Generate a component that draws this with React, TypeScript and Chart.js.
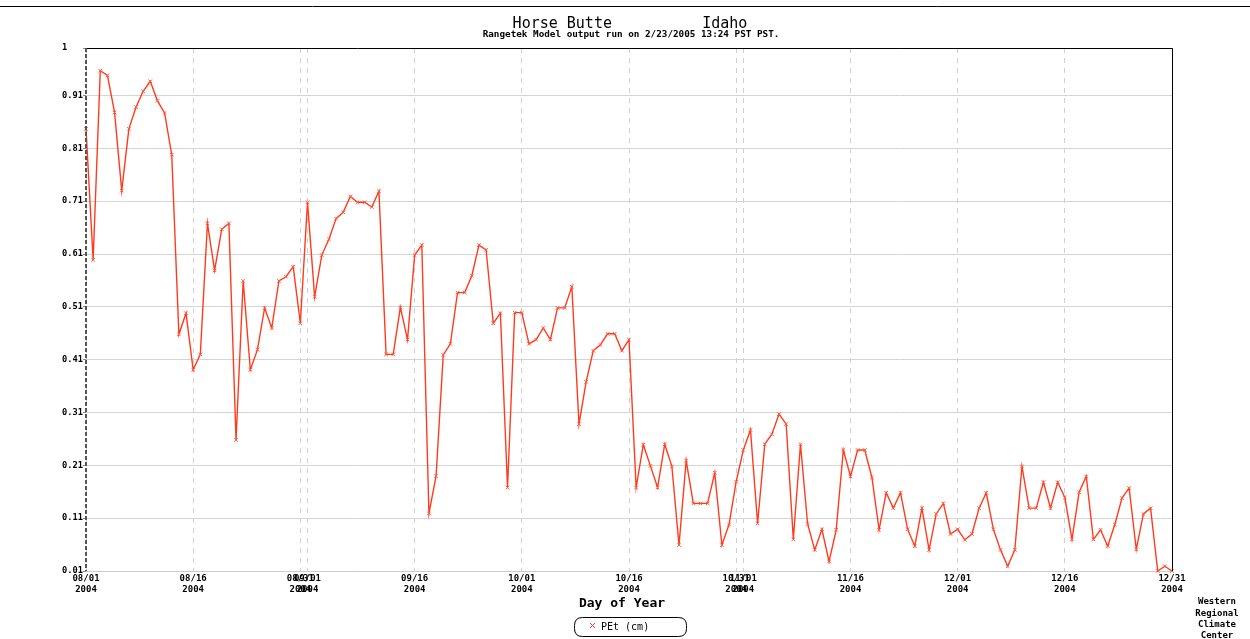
import React, { useEffect, useRef } from 'react';
import { Chart, registerables } from 'chart.js';

Chart.register(...registerables);

const titleText = 'Horse Butte          Idaho';
const subtitleText = 'Rangetek Model output run on 2/23/2005 13:24 PST PST.';
const xAxisTitle = 'Day of Year';
const seriesLabel = 'PEt (cm)';
const creditLines = ['Western', 'Regional', 'Climate', 'Center'];

// x = day index since 08/01/2004
const tickDays = [0, 15, 30, 31, 46, 61, 76, 91, 92, 107, 122, 137, 152];
const tickDates = ['08/01', '08/16', '08/31', '09/01', '09/16', '10/01', '10/16', '10/31', '11/01', '11/16', '12/01', '12/16', '12/31'];
const tickYear = '2004';

const yTickValues = [0.01, 0.11, 0.21, 0.31, 0.41, 0.51, 0.61, 0.71, 0.81, 0.91, 1];
const yTickLabels = ['0.01', '0.11', '0.21', '0.31', '0.41', '0.51', '0.61', '0.71', '0.81', '0.91', '1   '];

const petValues = [
  0.847, 0.599, 0.957, 0.948, 0.878, 0.730, 0.847, 0.888, 0.918, 0.937,
  0.900, 0.877, 0.798, 0.458, 0.498, 0.391, 0.420, 0.668, 0.579, 0.657,
  0.668, 0.258, 0.559, 0.391, 0.429, 0.508, 0.470, 0.559, 0.567, 0.586,
  0.479, 0.708, 0.529, 0.608, 0.638, 0.677, 0.689, 0.719, 0.708, 0.708,
  0.699, 0.729, 0.420, 0.420, 0.509, 0.448, 0.608, 0.627, 0.119, 0.190,
  0.419, 0.440, 0.537, 0.537, 0.569, 0.627, 0.618, 0.479, 0.498, 0.168,
  0.499, 0.499, 0.440, 0.448, 0.470, 0.448, 0.508, 0.508, 0.548, 0.288,
  0.368, 0.427, 0.438, 0.459, 0.459, 0.427, 0.448, 0.168, 0.249, 0.209,
  0.168, 0.250, 0.208, 0.059, 0.219, 0.138, 0.138, 0.138, 0.196, 0.059,
  0.098, 0.179, 0.239, 0.277, 0.100, 0.250, 0.269, 0.307, 0.288, 0.070,
  0.250, 0.099, 0.050, 0.089, 0.028, 0.088, 0.239, 0.189, 0.239, 0.239,
  0.187, 0.088, 0.158, 0.129, 0.158, 0.089, 0.057, 0.129, 0.050, 0.118,
  0.138, 0.080, 0.089, 0.069, 0.080, 0.129, 0.158, 0.089, 0.050, 0.019,
  0.050, 0.208, 0.129, 0.129, 0.178, 0.129, 0.178, 0.149, 0.070, 0.159,
  0.189, 0.070, 0.088, 0.057, 0.098, 0.148, 0.167, 0.051, 0.118, 0.129,
  0.010, 0.019, 0.010,
];

const MONO = '"DejaVu Sans Mono", "Liberation Mono", monospace';
const LINE_COLOR = '#ff3b1f';

const decorPlugin = {
  id: 'decor',
  afterDraw(chart: any) {
    const { ctx, chartArea } = chart;
    const { left, right, top, bottom } = chartArea;
    const W = chart.width;
    ctx.save();
    // top frame line
    ctx.strokeStyle = '#000';
    ctx.lineWidth = 1;
    ctx.beginPath();
    ctx.moveTo(0, 6.5);
    ctx.lineTo(W, 6.5);
    ctx.stroke();
    // plot top & right borders
    ctx.beginPath();
    ctx.moveTo(left, top + 0.5);
    ctx.lineTo(right + 0.5, top + 0.5);
    ctx.lineTo(right + 0.5, bottom);
    ctx.stroke();
    // dashed left axis
    ctx.strokeStyle = '#555';
    ctx.lineWidth = 2;
    ctx.setLineDash([4, 2]);
    ctx.beginPath();
    ctx.moveTo(left, top);
    ctx.lineTo(left, bottom);
    ctx.stroke();
    ctx.setLineDash([]);

    // titles
    ctx.fillStyle = '#000';
    ctx.textAlign = 'center';
    ctx.textBaseline = 'middle';
    ctx.font = `15px ${MONO}`;
    ctx.fillText(titleText, 630, 24);
    ctx.font = `bold 9.3px ${MONO}`;
    ctx.fillText(subtitleText, 631, 35);

    // x axis title
    ctx.font = `bold 13px ${MONO}`;
    ctx.fillText(xAxisTitle, 622, 604);

    // legend
    const lx = 574.5, ly = 617.5, lw = 112, lh = 19, r = 8;
    ctx.strokeStyle = '#000';
    ctx.lineWidth = 1;
    ctx.beginPath();
    ctx.moveTo(lx + r, ly);
    ctx.lineTo(lx + lw - r, ly);
    ctx.quadraticCurveTo(lx + lw, ly, lx + lw, ly + r);
    ctx.lineTo(lx + lw, ly + lh - r);
    ctx.quadraticCurveTo(lx + lw, ly + lh, lx + lw - r, ly + lh);
    ctx.lineTo(lx + r, ly + lh);
    ctx.quadraticCurveTo(lx, ly + lh, lx, ly + lh - r);
    ctx.lineTo(lx, ly + r);
    ctx.quadraticCurveTo(lx, ly, lx + r, ly);
    ctx.stroke();
    ctx.strokeStyle = LINE_COLOR;
    ctx.beginPath();
    ctx.moveTo(590, 623);
    ctx.lineTo(595, 628);
    ctx.moveTo(595, 623);
    ctx.lineTo(590, 628);
    ctx.stroke();
    ctx.fillStyle = '#000';
    ctx.textAlign = 'left';
    ctx.font = `10px ${MONO}`;
    ctx.fillText(seriesLabel, 601, 627);

    // credit
    ctx.textAlign = 'center';
    ctx.font = `bold 9px ${MONO}`;
    creditLines.forEach((t, i) => ctx.fillText(t, 1217, 602 + i * 11.3));
    ctx.restore();
  },
};

export default function App() {
  const canvasRef = useRef<HTMLCanvasElement | null>(null);

  useEffect(() => {
    const canvas = canvasRef.current;
    if (!canvas) return;
    const chart = new Chart(canvas, {
      type: 'line',
      data: {
        datasets: [
          {
            label: seriesLabel,
            data: petValues.map((v, i) => ({ x: i, y: v })),
            borderColor: LINE_COLOR,
            backgroundColor: LINE_COLOR,
            borderWidth: 1.4,
            pointStyle: 'crossRot',
            pointRadius: 2.5,
            pointBorderWidth: 1,
            pointBorderColor: '#ff5a40',
            tension: 0,
            clip: false as any,
          },
        ],
      },
      options: {
        responsive: false,
        animation: false,
        layout: { padding: { left: 0, top: 48, right: 78, bottom: 0 } },
        plugins: {
          legend: { display: false },
          title: { display: false },
          tooltip: { enabled: false },
        },
        scales: {
          x: {
            type: 'linear',
            min: 0,
            max: 152,
            afterFit: (s: any) => { s.height = 68; },
            afterBuildTicks: (s: any) => { s.ticks = tickDays.map((v) => ({ value: v })); },
            ticks: {
              autoSkip: false,
              maxRotation: 0,
              minRotation: 0,
              padding: 2,
              color: '#000',
              font: { family: MONO, size: 9, weight: 'bold', lineHeight: 1.2 },
              callback: (v: any) => {
                const idx = tickDays.indexOf(Number(v));
                return idx >= 0 ? [tickDates[idx], tickYear] : '';
              },
            },
            grid: { color: '#d0d0d0', lineWidth: 1, drawTicks: false },
            border: { display: true, color: '#cccccc', width: 1, dash: [5, 5] },
          },
          y: {
            type: 'linear',
            min: 0.01,
            max: 1,
            afterFit: (s: any) => { s.width = 86; },
            afterBuildTicks: (s: any) => { s.ticks = yTickValues.map((v) => ({ value: v })); },
            ticks: {
              padding: 0,
              color: '#000',
              font: { family: MONO, size: 8.7, weight: 'bold' },
              callback: (v: any) => {
                const idx = yTickValues.findIndex((t) => Math.abs(t - Number(v)) < 1e-6);
                return idx >= 0 ? yTickLabels[idx] : '';
              },
            },
            grid: { color: '#d4d4d4', lineWidth: 1, tickLength: 3, tickColor: '#888' },
            border: { display: false },
          },
        },
      },
      plugins: [decorPlugin],
    } as any);
    return () => chart.destroy();
  }, []);

  return (
    <div style={{ position: 'absolute', left: 0, top: 0, width: 1250, height: 639, background: '#fff' }}>
      <canvas ref={canvasRef} width={1250} height={639} style={{ display: 'block' }} />
    </div>
  );
}
